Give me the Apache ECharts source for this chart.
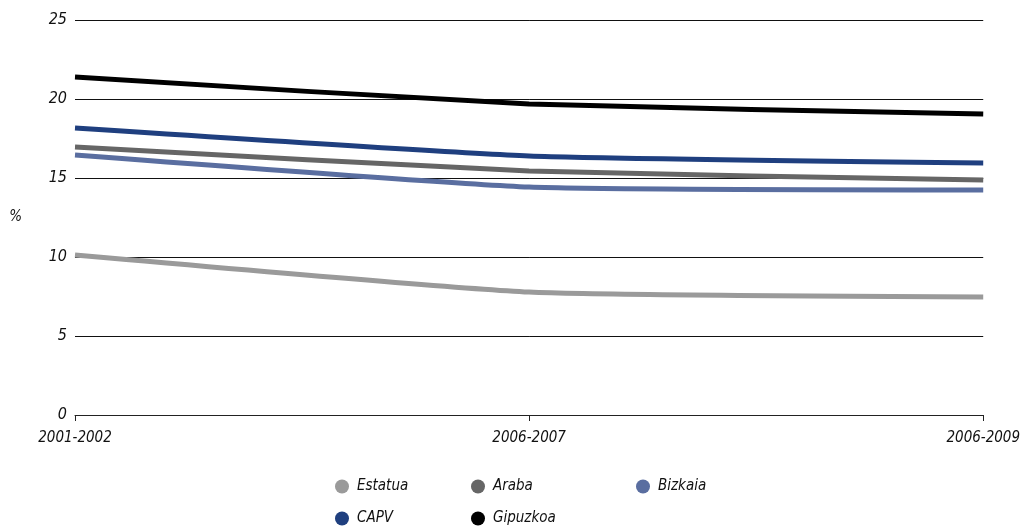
<!DOCTYPE html>
<html><head><meta charset="utf-8">
<script src="https://cdn.jsdelivr.net/npm/echarts@6/dist/echarts.min.js"></script>
<style>html,body{margin:0;padding:0;background:#fff}#c{width:1023px;height:526px}</style>
</head><body><div id="c"></div>
<script>
const categories = ['2001-2002', '2006-2007', '2006-2009'];
const estatua = [10.13, 7.78, 7.47];
const araba = [16.96, 15.44, 14.87];
const bizkaia = [16.46, 14.43, 14.24];
const capv = [18.16, 16.39, 15.95];
const gipuzkoa = [21.39, 19.68, 19.05];
const yTicks = [0, 5, 10, 15, 20, 25];

const FONT = '"Liberation Sans Narrow", "DejaVu Sans Condensed", "Liberation Sans", sans-serif';
const txt = {fontFamily: FONT, fontStyle: 'italic', fontSize: 15, color: '#111'};

const seriesDef = [
  {name: 'Estatua', data: estatua, color: '#9a9a9a'},
  {name: 'Araba', data: araba, color: '#666666'},
  {name: 'Bizkaia', data: bizkaia, color: '#5a6ea0'},
  {name: 'CAPV', data: capv, color: '#1f3f7f'},
  {name: 'Gipuzkoa', data: gipuzkoa, color: '#000000'}
];
const legendPos = [[330, 474], [466, 474], [631, 474], [330, 506], [466, 506]];

const chart = echarts.init(document.getElementById('c'));
chart.setOption({
  animation: false,
  grid: {left: 75, right: 35, top: 20, bottom: 111},
  legend: seriesDef.map((s, i) => ({
    data: [s.name], left: legendPos[i][0], top: legendPos[i][1],
    icon: 'circle', itemWidth: 14, itemHeight: 14, itemGap: 0,
    textStyle: Object.assign({}, txt, {fontSize: 15, padding: [0, 0, 0, 3]})
  })),
  xAxis: {
    type: 'category', data: categories, boundaryGap: false,
    axisLine: {lineStyle: {color: '#222', width: 1}},
    axisTick: {length: 6, lineStyle: {color: '#222'}},
    axisLabel: Object.assign({}, txt, {margin: 16, interval: 0})
  },
  yAxis: {
    type: 'value', min: 0, max: 25, interval: 5,
    name: '%', nameLocation: 'middle', nameGap: 53, nameRotate: 0,
    nameTextStyle: txt,
    axisLine: {show: false}, axisTick: {show: false},
    axisLabel: Object.assign({}, txt, {fontSize: 16, margin: 8, formatter: v => yTicks.includes(v) ? String(v) : ''}),
    splitLine: {lineStyle: {color: '#111', width: 1}}
  },
  series: seriesDef.map(s => ({
    name: s.name, type: 'line', data: s.data, symbol: 'none', smooth: 0.15,
    itemStyle: {color: s.color},
    lineStyle: {color: s.color, width: 5}
  }))
});
</script></body></html>
